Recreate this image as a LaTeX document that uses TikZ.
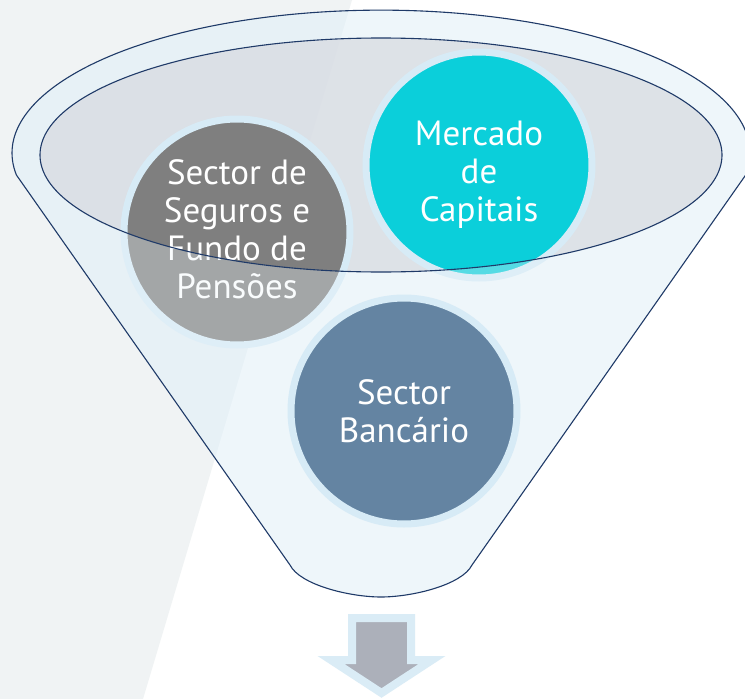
\documentclass[tikz,border=0pt]{standalone}
\usepackage{fontspec}
\setmainfont{PT Sans}
\definecolor{bgl}{HTML}{F0F3F4}
\definecolor{funnelc}{HTML}{D6EBF7}
\definecolor{frontc}{HTML}{EEF6FA}
\definecolor{rimc}{HTML}{D8DBE1}
\definecolor{navy}{HTML}{1F3A68}
\definecolor{ringc}{HTML}{D7EBF6}
\definecolor{greyc}{HTML}{7F7F7F}
\definecolor{cyanc}{HTML}{0BCFDA}
\definecolor{bluec}{HTML}{6484A2}
\definecolor{arrowc}{HTML}{ACB0BA}
\definecolor{arrowring}{HTML}{DAECF6}
\begin{document}
\begin{tikzpicture}[x=1pt,y=-1pt,
  bubble/.style={circle, draw=ringc, line width=7pt, minimum size=226pt, inner sep=0pt,
     text=white, align=center, font=\fontsize{35}{38}\selectfont},
  bubbletext/.style={text=white, align=center, font=\fontsize{35}{38}\selectfont},
  outline/.style={draw=navy, line width=1.1pt}]
\useasboundingbox (0,0) rectangle (745,699);
\fill[white] (0,0) rectangle (745,699);
\fill[bgl] (0,0) -- (352,0) -- (143,699) -- (0,699) -- cycle;
% funnel body
\fill[funnelc, fill opacity=0.4] (16.4,175) arc[start angle=171.2,end angle=368.8,x radius=369,y radius=143] -- (472,565) .. controls (462,585) and (412,597) .. (381,597) .. controls (350,597) and (300,585) .. (290,565) -- cycle;
% opening
\fill[rimc, fill opacity=0.75] (381,155) ellipse[x radius=341, y radius=117];
% circles inside the funnel
\node[bubble, fill=greyc, label={[bubbletext, yshift=3pt]center:{Sector de\\Seguros e\\Fundo de\\Pensões}}] (seg) at (237,232) {};
\node[bubble, fill=cyanc, label={[bubbletext, yshift=-10pt]center:{Mercado\\de\\Capitais}}] (mer) at (479,165) {};
% translucent front of the funnel
\fill[frontc, fill opacity=0.33, even odd rule] (16.4,175) arc[start angle=171.2,end angle=368.8,x radius=369,y radius=143] -- (472,565) .. controls (462,585) and (412,597) .. (381,597) .. controls (350,597) and (300,585) .. (290,565) -- cycle
  (381,155) ellipse[x radius=341, y radius=117];
% outlines
\draw[outline] (16.4,175) arc[start angle=171.2,end angle=368.8,x radius=369,y radius=143] -- (472,565) .. controls (462,585) and (412,597) .. (381,597) .. controls (350,597) and (300,585) .. (290,565) -- cycle;
\draw[outline] (381,155) ellipse[x radius=341, y radius=117];
% front circle
\node[bubble, fill=bluec] (ban) at (404,411) {Sector\\Bancário};
% arrow
\fill[arrowc, draw=arrowring, line width=8pt, miter limit=10] (352,618) -- (411,618) -- (411,660) -- (432,660) -- (381.5,693) -- (331,660) -- (352,660) -- cycle;
\end{tikzpicture}
\end{document}
